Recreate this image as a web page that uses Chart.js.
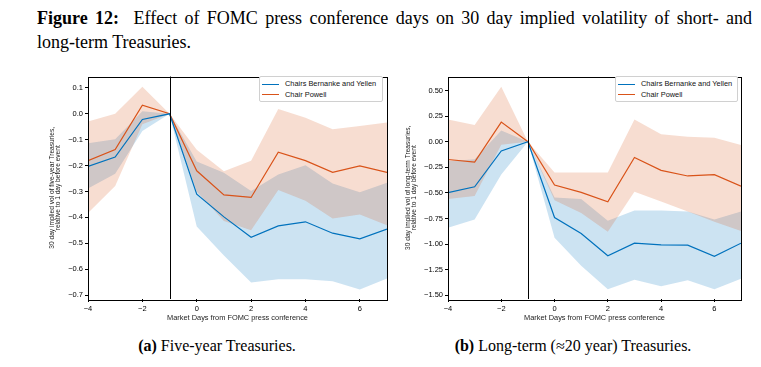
<!DOCTYPE html>
<html>
<head>
<meta charset="utf-8">
<script src="https://cdn.jsdelivr.net/npm/chart.js@4.4.1/dist/chart.umd.min.js"></script>
<style>
  body { margin: 0; background: #fff; }
  #page { position: relative; width: 761px; height: 367px; overflow: hidden; }
  .cap { position: absolute; font-family: 'Liberation Serif', serif; color: #000; }
  .sub { position: absolute; width: 320px; text-align: center; font-family: 'Liberation Serif', serif; font-size: 16px; top: 337px; }
  canvas { position: absolute; }
  .legend { position: absolute; border: 1px solid #d0d0d0; border-radius: 2px; background: #fff;
            font-family: 'Liberation Sans', sans-serif; font-size: 7.4px; color: #111; padding: 2px 3px 1px 2px; }
  .legend div { height: 10.5px; line-height: 10.5px; white-space: nowrap; }
  .legend span.sw { display: inline-block; width: 17px; height: 0; border-top: 1.3px solid; vertical-align: middle; margin-right: 6px; }
</style>
</head>
<body>
<div id="page">
  <div class="cap" style="left:37px; top:6px; width:715px; font-size:18px; line-height:24px;">
    <div style="text-align:justify; text-align-last:justify;"><b>Figure 12:</b>&nbsp; Effect of FOMC press conference days on 30 day implied volatility of short- and</div>
    <div>long-term Treasuries.</div>
  </div>

  <canvas id="c5" width="355" height="260" style="left:40px; top:70px;"></canvas>
  <canvas id="cL" width="355" height="260" style="left:400px; top:70px;"></canvas>

  <div class="legend" style="left:259px; top:76px; width:117px;">
    <div><span class="sw" style="border-color:#0072BD"></span>Chairs Bernanke and Yellen</div>
    <div><span class="sw" style="border-color:#D95319"></span>Chair Powell</div>
  </div>
  <div class="legend" style="left:615px; top:76px; width:116px;">
    <div><span class="sw" style="border-color:#0072BD"></span>Chairs Bernanke and Yellen</div>
    <div><span class="sw" style="border-color:#D95319"></span>Chair Powell</div>
  </div>

  <div class="sub" style="left:57px;"><b>(a)</b> Five-year Treasuries.</div>
  <div class="sub" style="left:413px;"><b>(b)</b> Long-term (&asymp;20 year) Treasuries.</div>
</div>

<script>
// market days relative to the press conference
const days = [-4, -3, -2, -1, 0, 1, 2, 3, 4, 5, 6, 7];
const eventDay = -1;
const xTicks = [-4, -2, 0, 2, 4, 6];
const seriesLabels = ['Chairs Bernanke and Yellen', 'Chair Powell'];

// five-year Treasuries
const byMean5  = [-0.203, -0.167, -0.022, 0, -0.310, -0.398, -0.477, -0.433, -0.417, -0.461, -0.483, -0.445];
const byUpper5 = [-0.114, -0.098,  0.010, 0, -0.184, -0.228, -0.298, -0.234, -0.199, -0.269, -0.303, -0.266];
const byLower5 = [-0.288, -0.231, -0.066, 0, -0.435, -0.547, -0.651, -0.639, -0.639, -0.646, -0.678, -0.636];
const pMean5   = [-0.181, -0.138,  0.033, 0, -0.220, -0.313, -0.323, -0.148, -0.181, -0.226, -0.201, -0.226];
const pUpper5  = [-0.030,  0.000,  0.104, 0, -0.139, -0.222, -0.181,  0.019, -0.015, -0.060, -0.047, -0.034];
const pLower5  = [-0.383, -0.279, -0.040, 0, -0.300, -0.414, -0.450, -0.294, -0.336, -0.404, -0.389, -0.430];
const yTicks5  = [0.1, 0.0, -0.1, -0.2, -0.3, -0.4, -0.5, -0.6, -0.7];

// long-term (~20 year) Treasuries
const byMeanL  = [-0.497, -0.440, -0.090, 0, -0.740, -0.895, -1.113, -0.990, -1.007, -1.010, -1.119, -0.990];
const byUpperL = [-0.190, -0.170,  0.110, 0, -0.545, -0.560, -0.770, -0.670, -0.670, -0.680, -0.760, -0.680];
const byLowerL = [-0.840, -0.760, -0.320, 0, -0.936, -1.210, -1.440, -1.346, -1.410, -1.353, -1.440, -1.337];
const pMeanL   = [-0.173, -0.199,  0.192, 0, -0.423, -0.494, -0.587, -0.154, -0.279, -0.334, -0.321, -0.433];
const pUpperL  = [ 0.217,  0.163,  0.538, 0, -0.300, -0.300, -0.300,  0.217,  0.073,  0.050,  0.040, -0.032];
const pLowerL  = [-0.560, -0.530, -0.030, 0, -0.570, -0.696, -0.878, -0.488, -0.584, -0.680, -0.780, -0.872];
const yTicksL  = [0.5, 0.25, 0, -0.25, -0.5, -0.75, -1.0, -1.25, -1.5];

const BLUE = '#0072BD';
const ORANGE = '#D95319';
const tickFont = { family: 'Liberation Sans', size: 7.5 };

function pts(arr) {
  return days.map((d, i) => ({ x: d, y: arr[i] }));
}

// black box round the plot and the event-day line
const framePlugin = {
  id: 'frame',
  afterDatasetsDraw(chart) {
    const { ctx, chartArea: a, scales } = chart;
    ctx.save();
    ctx.strokeStyle = '#000';
    ctx.lineWidth = 1;
    const xp = Math.round(scales.x.getPixelForValue(eventDay)) + 0.5;
    ctx.beginPath();
    ctx.moveTo(xp, a.top);
    ctx.lineTo(xp, a.bottom);
    ctx.stroke();
    ctx.strokeRect(Math.round(a.left) + 0.5, Math.round(a.top) + 0.5, Math.round(a.width), Math.round(a.height));
    ctx.restore();
  }
};

function band(data, color, fillTo, order) {
  return {
    data: pts(data), borderWidth: 0, pointRadius: 0, tension: 0,
    backgroundColor: color, fill: fillTo, order: order
  };
}

function makeChart(id, s) {
  new Chart(document.getElementById(id), {
    type: 'line',
    data: {
      datasets: [
        { label: seriesLabels[0], data: pts(s.byMean), borderColor: BLUE, borderWidth: 1.2, pointRadius: 0, tension: 0, fill: false, order: 0 },
        { label: seriesLabels[1], data: pts(s.pMean), borderColor: ORANGE, borderWidth: 1.2, pointRadius: 0, tension: 0, fill: false, order: 1 },
        band(s.pUpper, 'rgba(217,83,25,0.2)', 3, 2),
        band(s.pLower, 'rgba(217,83,25,0.2)', false, 3),
        band(s.byUpper, 'rgba(0,114,189,0.2)', 5, 4),
        band(s.byLower, 'rgba(0,114,189,0.2)', false, 5)
      ]
    },
    options: {
      responsive: false,
      animation: false,
      devicePixelRatio: 1,
      layout: { padding: { top: 3, right: s.padRight, left: 0, bottom: 0 } },
      plugins: { legend: { display: false }, tooltip: { enabled: false } },
      scales: {
        x: {
          type: 'linear', min: -4, max: 7,
          afterBuildTicks: (sc) => { sc.ticks = xTicks.map(v => ({ value: v })); },
          afterFit: (sc) => { sc.height = 31; },
          grid: { drawOnChartArea: false, tickLength: 3, tickColor: '#000' },
          border: { display: false },
          ticks: { font: tickFont, color: '#000', padding: 2, maxRotation: 0,
                   callback: (v) => String(v).replace('-', '\u2212') },
          title: { display: true, text: 'Market Days from FOMC press conference',
                   font: { family: 'Liberation Sans', size: 7.4 }, color: '#222', padding: { top: 0, bottom: 8 } }
        },
        y: {
          min: s.yMin, max: s.yMax,
          afterBuildTicks: (sc) => { sc.ticks = s.yTicks.map(v => ({ value: v })); },
          afterFit: (sc) => { sc.width = s.yWidth; },
          grid: { drawOnChartArea: false, tickLength: 3, tickColor: '#000' },
          border: { display: false },
          ticks: { font: tickFont, color: '#000', padding: 2,
                   callback: (v) => v.toFixed(s.decimals).replace('-', '\u2212') },
          title: { display: true, text: s.yTitle,
                   font: { family: 'Liberation Sans', size: 6.6, lineHeight: 0.9 }, color: '#222',
                   padding: { top: s.titlePad, bottom: 0 } }
        }
      }
    },
    plugins: [framePlugin]
  });
}

makeChart('c5', {
  byMean: byMean5, byUpper: byUpper5, byLower: byLower5,
  pMean: pMean5, pUpper: pUpper5, pLower: pLower5,
  yMin: -0.715, yMax: 0.144, yTicks: yTicks5, decimals: 1,
  yWidth: 48, padRight: 8, titlePad: 9,
  yTitle: ['30 day implied vol of five-year Treasuries,', 'relative to 1 day before event']
});

makeChart('cL', {
  byMean: byMeanL, byUpper: byUpperL, byLower: byLowerL,
  pMean: pMeanL, pUpper: pUpperL, pLower: pLowerL,
  yMin: -1.535, yMax: 0.637, yTicks: yTicksL, decimals: 2,
  yWidth: 48, padRight: 14, titlePad: 5,
  yTitle: ['30 day implied vol of long-term Treasuries,', 'relative to 1 day before event']
});
</script>
</body>
</html>
